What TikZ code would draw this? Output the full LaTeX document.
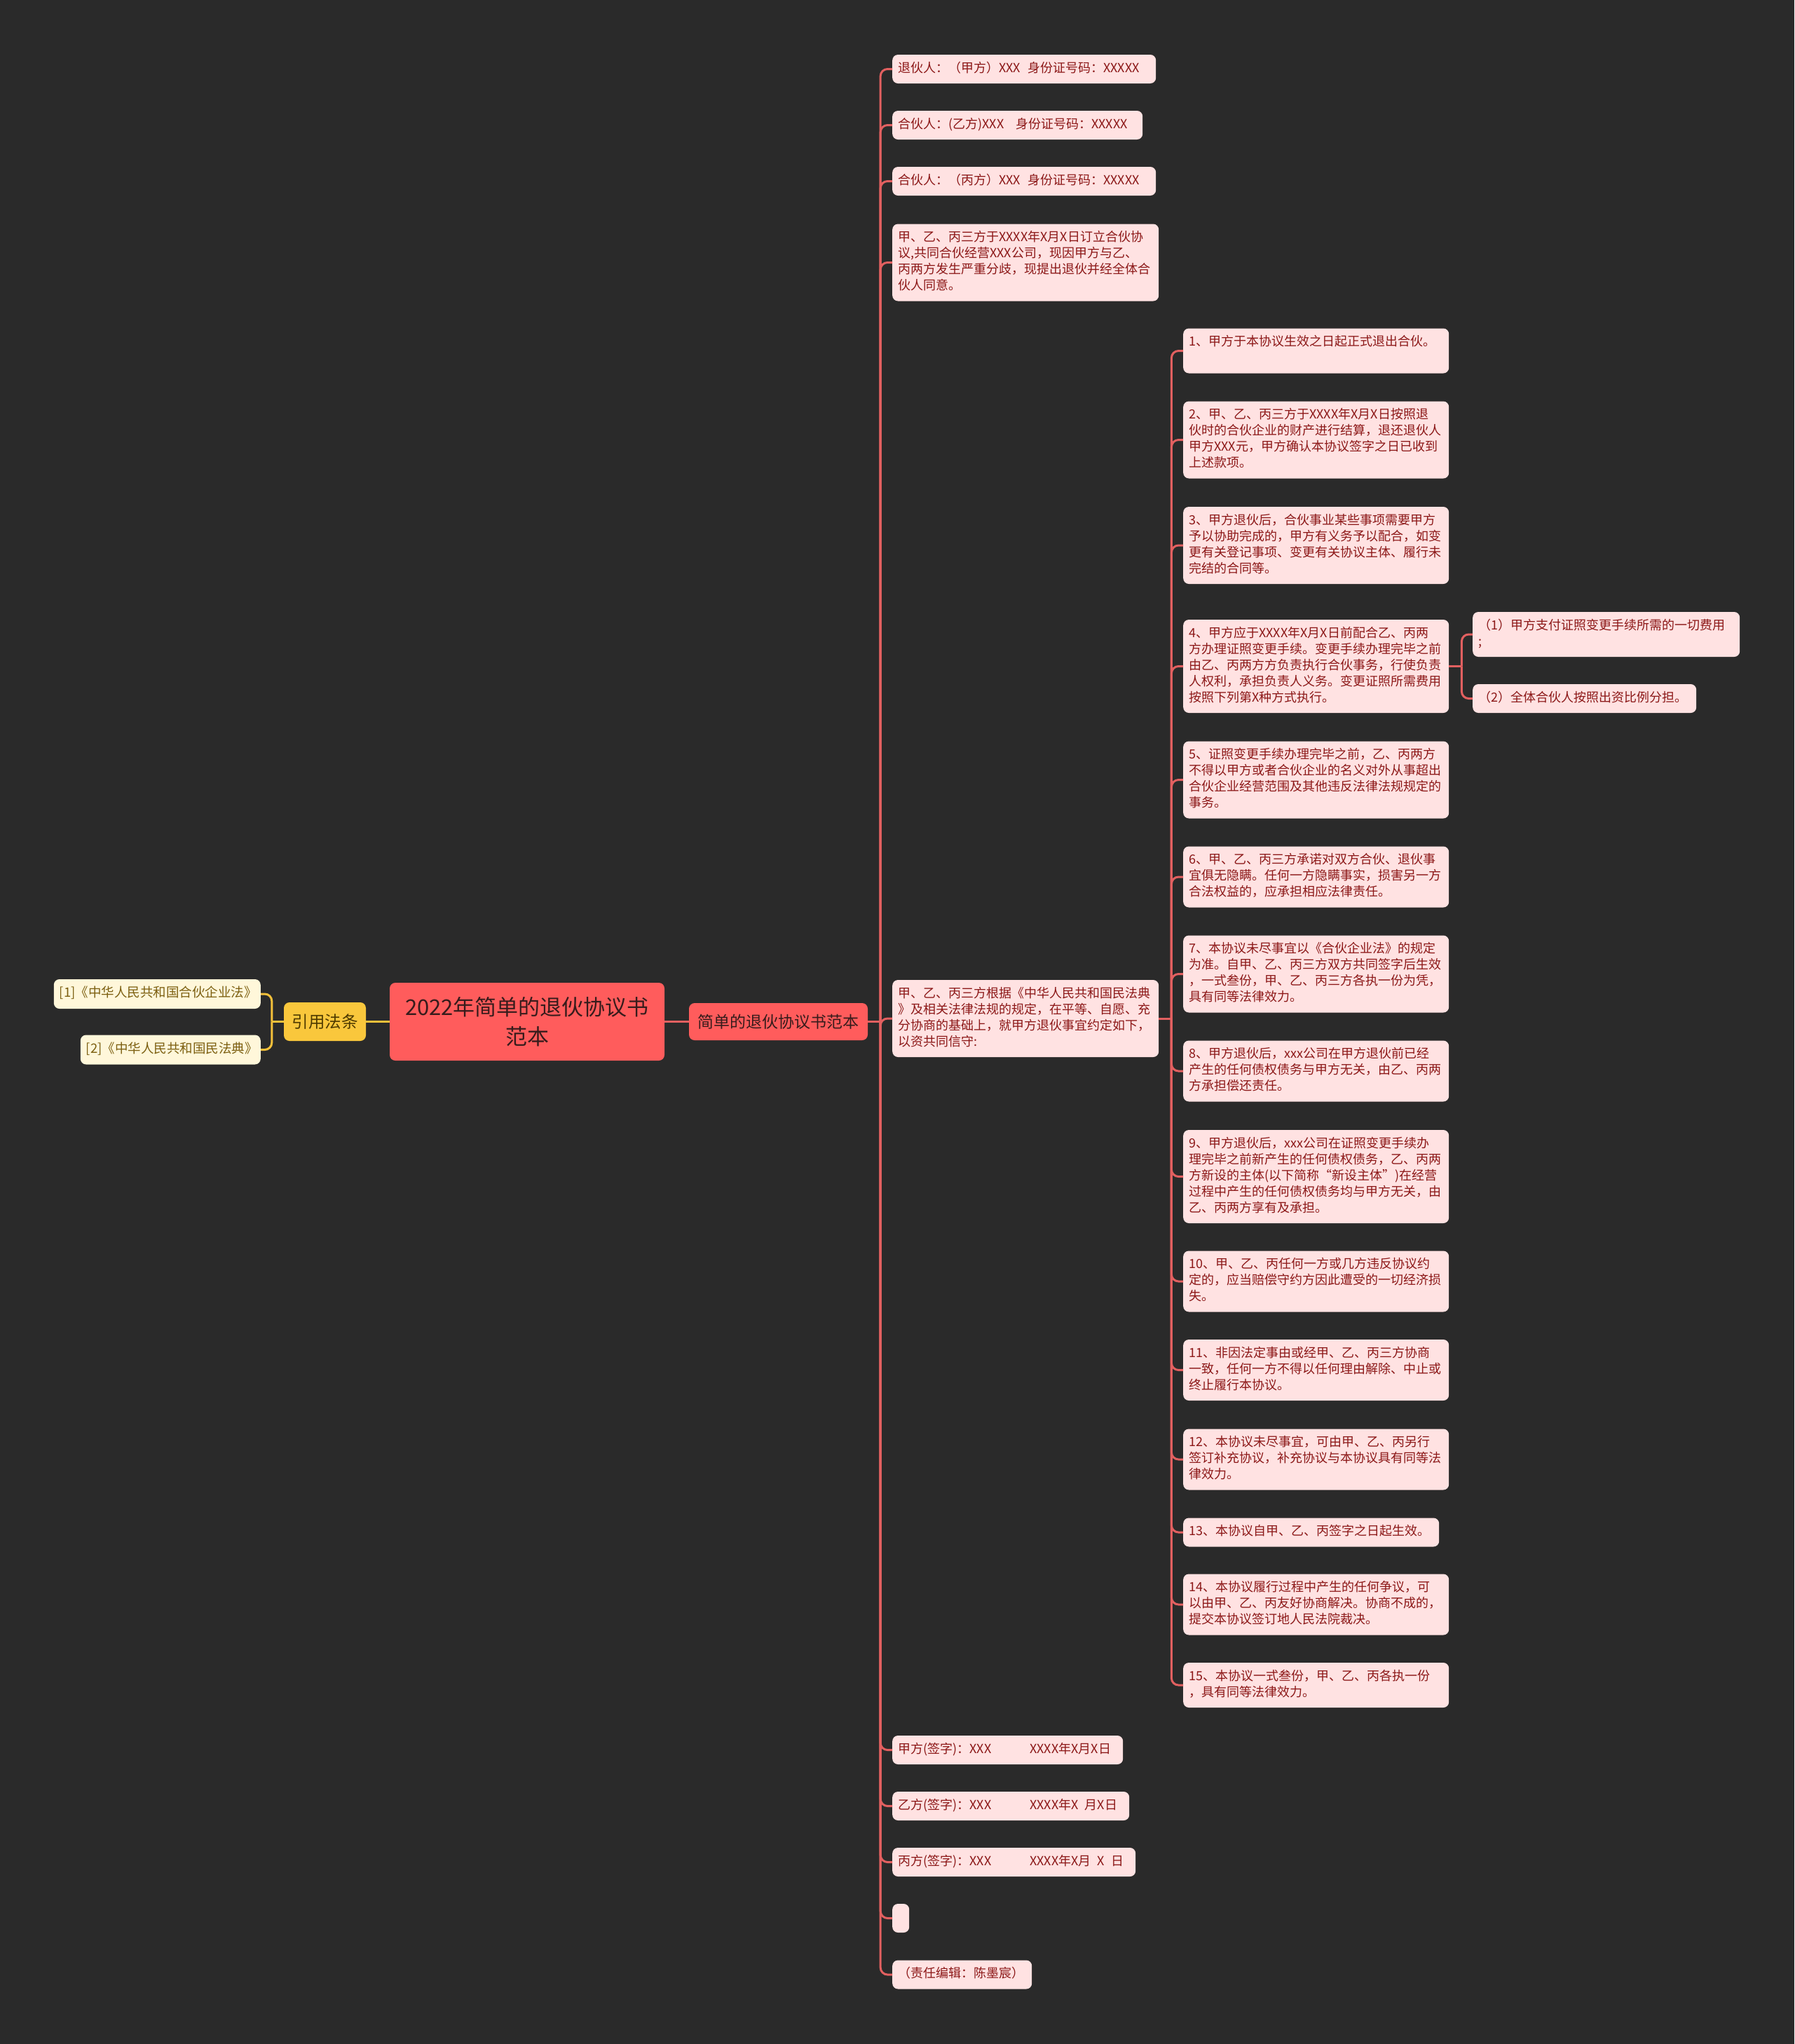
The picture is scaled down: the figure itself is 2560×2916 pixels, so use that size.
\documentclass[tikz,border=0pt]{standalone}
\usepackage{fontspec}
\setmainfont{Noto Sans CJK SC}
\definecolor{bgc}{RGB}{42,42,42}
\definecolor{pinkfill}{RGB}{255,226,226}
\definecolor{darkred}{RGB}{140,24,24}
\definecolor{coral}{RGB}{226,96,96}
\definecolor{rootred}{RGB}{255,92,92}
\definecolor{rootdark}{RGB}{55,28,28}
\definecolor{yfill}{RGB}{249,199,60}
\definecolor{ydark}{RGB}{78,58,0}
\definecolor{cfill}{RGB}{255,247,218}
\definecolor{ctext}{RGB}{124,95,16}
\definecolor{yline}{RGB}{243,192,58}
\tikzset{
  base/.style={rounded corners=8pt, align=left, inner xsep=8pt, inner ysep=9pt,
    execute at begin node=\strut, execute at end node=\strut},
  l2/.style={base, anchor=west, fill=pinkfill, text=darkred, font=\fontsize{18pt}{23pt}\selectfont},
  citebox/.style={base, anchor=east, inner ysep=9.5pt, fill=cfill, text=ctext, font=\fontsize{18.5pt}{23pt}\selectfont},
  rootbox/.style={rounded corners=8pt, fill=rootred, text=rootdark, align=center, inner sep=0pt,
    font=\fontsize{31pt}{42pt}\selectfont},
  lonebox/.style={rounded corners=8pt, fill=rootred, text=rootdark, align=center, inner sep=0pt,
    font=\fontsize{23pt}{28pt}\selectfont},
  ybox/.style={rounded corners=8pt, fill=yfill, text=ydark, align=center, inner sep=0pt,
    font=\fontsize{23.5pt}{28pt}\selectfont},
  conn/.style={draw=coral, line width=3pt, rounded corners=10pt},
  yconn/.style={draw=yline, line width=3pt, rounded corners=10pt},
}
\begin{document}
\begin{tikzpicture}[x=1pt,y=-1pt]
\fill[bgc] (0,0) rectangle (2560,2916);
\useasboundingbox (0,0) rectangle (2560,2916);

% central nodes
\node[rootbox, minimum width=392pt, minimum height=111pt] (root) at (752,1457.5) {2022年简单的退伙协议书\\范本};
\node[lonebox, minimum width=255pt, minimum height=53pt] (l1) at (1110.5,1457.5) {简单的退伙协议书范本};
\node[ybox, minimum width=117pt, minimum height=55pt] (cite) at (463.5,1457.5) {引用法条};
\node[citebox, text width=279pt] (c1) at (372,1418) {[1]《中华人民共和国合伙企业法》};
\node[citebox, text width=241pt] (c2) at (372,1497.5) {[2]《中华人民共和国民法典》};

% level 2
\node[l2, text width=360pt] (a) at (1273,98.5) {退伙人：（甲方）XXX\hspace{10pt}身份证号码：XXXXX};
\node[l2, text width=341pt] (b) at (1273,178.5) {合伙人：(乙方)XXX\hspace{17pt}身份证号码：XXXXX};
\node[l2, text width=360pt] (c) at (1273,258.5) {合伙人：（丙方）XXX\hspace{10pt}身份证号码：XXXXX};
\node[l2, text width=364pt] (d) at (1273,374.5) {甲、乙、丙三方于XXXX年X月X日订立合伙协\\议,共同合伙经营XXX公司，现因甲方与乙、\\丙两方发生严重分歧，现提出退伙并经全体合\\伙人同意。};
\node[l2, text width=364pt] (e) at (1273,1453) {甲、乙、丙三方根据《中华人民共和国民法典\\》及相关法律法规的规定，在平等、自愿、充\\分协商的基础上，就甲方退伙事宜约定如下，\\以资共同信守:};
\node[l2, text width=313pt] (f) at (1273,2496.5) {\makebox[188pt][l]{甲方(签字)：XXX}XXXX年X月X日};
\node[l2, text width=322pt] (g) at (1273,2576.5) {\makebox[188pt][l]{乙方(签字)：XXX}XXXX年X\hspace{9pt}月X日};
\node[l2, text width=331pt] (h) at (1273,2656.5) {\makebox[188pt][l]{丙方(签字)：XXX}XXXX年X月\hspace{9pt}X\hspace{9pt}日};
\node[l2, minimum width=24pt] (i) at (1273,2736.5) {};
\node[l2, text width=183pt] (j) at (1273,2817) {（责任编辑：陈墨宸）};

% level 3
\node[l2, text width=363pt] (t1) at (1688,500.5) {1、甲方于本协议生效之日起正式退出合伙。\\\mbox{}};
\node[l2, text width=363pt] (t2) at (1688,627.5) {2、甲、乙、丙三方于XXXX年X月X日按照退\\伙时的合伙企业的财产进行结算，退还退伙人\\甲方XXX元，甲方确认本协议签字之日已收到\\上述款项。};
\node[l2, text width=363pt] (t3) at (1688,778) {3、甲方退伙后，合伙事业某些事项需要甲方\\予以协助完成的，甲方有义务予以配合，如变\\更有关登记事项、变更有关协议主体、履行未\\完结的合同等。};
\node[l2, text width=363pt] (t4) at (1688,950.5) {4、甲方应于XXXX年X月X日前配合乙、丙两\\方办理证照变更手续。变更手续办理完毕之前\\由乙、丙两方方负责执行合伙事务，行使负责\\人权利，承担负责人义务。变更证照所需费用\\按照下列第X种方式执行。};
\node[l2, text width=363pt] (t5) at (1688,1112.5) {5、证照变更手续办理完毕之前，乙、丙两方\\不得以甲方或者合伙企业的名义对外从事超出\\合伙企业经营范围及其他违反法律法规规定的\\事务。};
\node[l2, text width=363pt] (t6) at (1688,1251) {6、甲、乙、丙三方承诺对双方合伙、退伙事\\宜俱无隐瞒。任何一方隐瞒事实，损害另一方\\合法权益的，应承担相应法律责任。};
\node[l2, text width=363pt] (t7) at (1688,1389.5) {7、本协议未尽事宜以《合伙企业法》的规定\\为准。自甲、乙、丙三方双方共同签字后生效\\，一式叁份，甲、乙、丙三方各执一份为凭，\\具有同等法律效力。};
\node[l2, text width=363pt] (t8) at (1688,1528) {8、甲方退伙后，xxx公司在甲方退伙前已经\\产生的任何债权债务与甲方无关，由乙、丙两\\方承担偿还责任。};
\node[l2, text width=363pt] (t9) at (1688,1678.5) {9、甲方退伙后，xxx公司在证照变更手续办\\理完毕之前新产生的任何债权债务，乙、丙两\\方新设的主体(以下简称“新设主体”)在经营\\过程中产生的任何债权债务均与甲方无关，由\\乙、丙两方享有及承担。};
\node[l2, text width=363pt] (t10) at (1688,1828) {10、甲、乙、丙任何一方或几方违反协议约\\定的，应当赔偿守约方因此遭受的一切经济损\\失。};
\node[l2, text width=363pt] (t11) at (1688,1954.5) {11、非因法定事由或经甲、乙、丙三方协商\\一致，任何一方不得以任何理由解除、中止或\\终止履行本协议。};
\node[l2, text width=363pt] (t12) at (1688,2082) {12、本协议未尽事宜，可由甲、乙、丙另行\\签订补充协议，补充协议与本协议具有同等法\\律效力。};
\node[l2, text width=349pt] (t13) at (1688,2186) {13、本协议自甲、乙、丙签字之日起生效。};
\node[l2, text width=363pt] (t14) at (1688,2289) {14、本协议履行过程中产生的任何争议，可\\以由甲、乙、丙友好协商解决。协商不成的，\\提交本协议签订地人民法院裁决。};
\node[l2, text width=363pt] (t15) at (1688,2404) {15、本协议一式叁份，甲、乙、丙各执一份\\，具有同等法律效力。};

% level 4
\node[l2, text width=365pt] (u1) at (2101,905) {（1）甲方支付证照变更手续所需的一切费用\\;};
\node[l2, text width=303pt] (u2) at (2101,996.5) {（2）全体合伙人按照出资比例分担。};

% connectors
\draw[conn] (root.east) -- (l1.west);
\draw[conn] (l1.east) -- ++(18,0) coordinate (s1);
\foreach \n in {a,b,c,d,e,f,g,h,i,j} { \draw[conn] (s1) |- (\n.west); }
\draw[conn] (e.east) -- ++(18,0) coordinate (s2);
\foreach \n in {t1,t2,t3,t4,t5,t6,t7,t8,t9,t10,t11,t12,t13,t14,t15} { \draw[conn] (s2) |- (\n.west); }
\draw[conn] (t4.east) -- ++(18,0) coordinate (s3);
\foreach \n in {u1,u2} { \draw[conn] (s3) |- (\n.west); }
\draw[yconn] (cite.east) -- (root.west);
\draw[yconn] (cite.west) -- ++(-17,0) coordinate (s0);
\foreach \n in {c1,c2} { \draw[yconn] (s0) |- (\n.east); }
\end{tikzpicture}
\end{document}
